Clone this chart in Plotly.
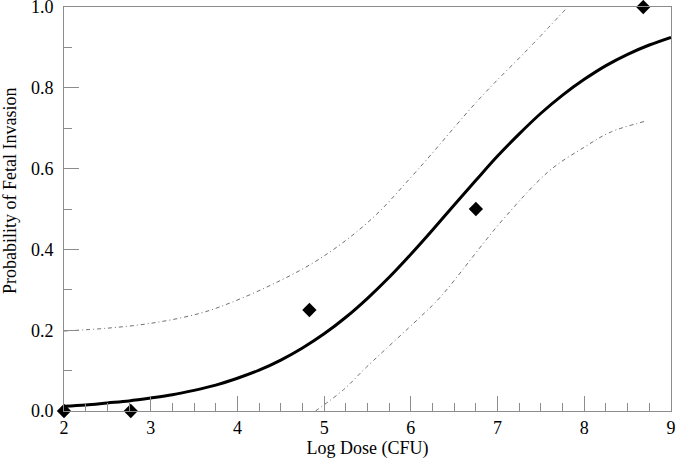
import plotly.graph_objects as go

# Observed data points
obs_dose = [2.0, 2.77, 4.83, 6.75, 8.68]
obs_prob = [0.0, 0.0, 0.25, 0.5, 1.0]

# Fitted dose-response curve
fit_dose = [2.0, 2.25, 2.5, 2.75, 3.0, 3.25, 3.5, 3.75, 4.0, 4.25, 4.5, 4.75,
            5.0, 5.25, 5.5, 5.75, 6.0, 6.25, 6.5, 6.75, 7.0, 7.25, 7.5, 7.75,
            8.0, 8.25, 8.5, 8.75, 9.0]
fit_prob = [0.012, 0.015, 0.020, 0.025, 0.032, 0.040, 0.051, 0.064, 0.081, 0.101,
            0.126, 0.156, 0.191, 0.232, 0.279, 0.331, 0.388, 0.448, 0.510, 0.571,
            0.631, 0.686, 0.737, 0.782, 0.821, 0.855, 0.883, 0.906, 0.925]

# Upper confidence band
upper_dose = [2.0, 2.5, 3.0, 3.5, 3.8, 4.38, 4.95, 5.53, 6.07, 6.80, 7.37, 7.80]
upper_prob = [0.198, 0.205, 0.217, 0.238, 0.258, 0.311, 0.377, 0.472, 0.595, 0.775, 0.90, 0.998]

# Lower confidence band
lower_dose = [4.90, 5.22, 5.49, 6.11, 6.34, 7.07, 7.60, 8.00, 8.30, 8.70]
lower_prob = [0.0, 0.052, 0.109, 0.233, 0.282, 0.476, 0.595, 0.653, 0.690, 0.717]

x_ticks = [2, 3, 4, 5, 6, 7, 8, 9]
y_ticks = [0.0, 0.2, 0.4, 0.6, 0.8, 1.0]

band_color = "#707070"
band_dash = "4px,3px,1px,3px"
axis_color = "#8c8c8c"
font_family = "Liberation Serif"

fig = go.Figure()
fig.add_trace(go.Scatter(x=upper_dose, y=upper_prob, mode="lines",
                         line=dict(color=band_color, width=1, dash=band_dash,
                                   shape="spline", smoothing=1.0),
                         hoverinfo="skip", showlegend=False))
fig.add_trace(go.Scatter(x=lower_dose, y=lower_prob, mode="lines",
                         line=dict(color=band_color, width=1, dash=band_dash,
                                   shape="spline", smoothing=1.0),
                         hoverinfo="skip", showlegend=False))
fig.add_trace(go.Scatter(x=fit_dose, y=fit_prob, mode="lines",
                         line=dict(color="black", width=3, shape="spline"),
                         showlegend=False))
fig.add_trace(go.Scatter(x=obs_dose, y=obs_prob, mode="markers",
                         marker=dict(symbol="diamond", size=11, color="black"),
                         cliponaxis=False, showlegend=False))

fig.update_layout(
    width=676, height=464,
    margin=dict(l=64, r=5, t=7, b=53, autoexpand=False),
    plot_bgcolor="white", paper_bgcolor="white",
    font=dict(family=font_family, size=18, color="black"),
    xaxis=dict(
        range=[2, 9], tickvals=x_ticks, ticktext=[str(v) for v in x_ticks],
        ticks="inside", ticklen=15, tickwidth=1, tickcolor=axis_color,
        minor=dict(dtick=0.25, ticks="inside", ticklen=8, tickcolor=axis_color, tickwidth=1),
        showline=True, linecolor=axis_color, linewidth=1, mirror=True,
        showgrid=False, zeroline=False,
        title=dict(text="Log Dose (CFU)", font=dict(size=18), standoff=2),
        tickfont=dict(size=18), ticklabelstandoff=0,
        ticklabeloverflow="allow", automargin=False,
    ),
    yaxis=dict(
        range=[0, 1], tickvals=y_ticks, ticktext=[f"{v:.1f}" for v in y_ticks],
        ticks="inside", ticklen=15, tickwidth=1, tickcolor=axis_color,
        minor=dict(dtick=0.1, ticks="inside", ticklen=8, tickcolor=axis_color, tickwidth=1),
        showline=True, linecolor=axis_color, linewidth=1, mirror=True,
        showgrid=False, zeroline=False,
        tickfont=dict(size=18), ticklabelstandoff=6,
        ticklabeloverflow="allow", automargin=False,
    ),
    annotations=[dict(
        text="Probability of Fetal Invasion", textangle=-90,
        xref="paper", yref="paper",
        x=(10 - 64) / 607, y=(411 - 191) / 404,
        xanchor="center", yanchor="middle", showarrow=False,
        font=dict(size=18, family=font_family),
    )],
)

fig.write_html("out.html", config={"displayModeBar": False},
               post_script="document.body.style.margin='0';document.body.style.overflow='hidden';")
